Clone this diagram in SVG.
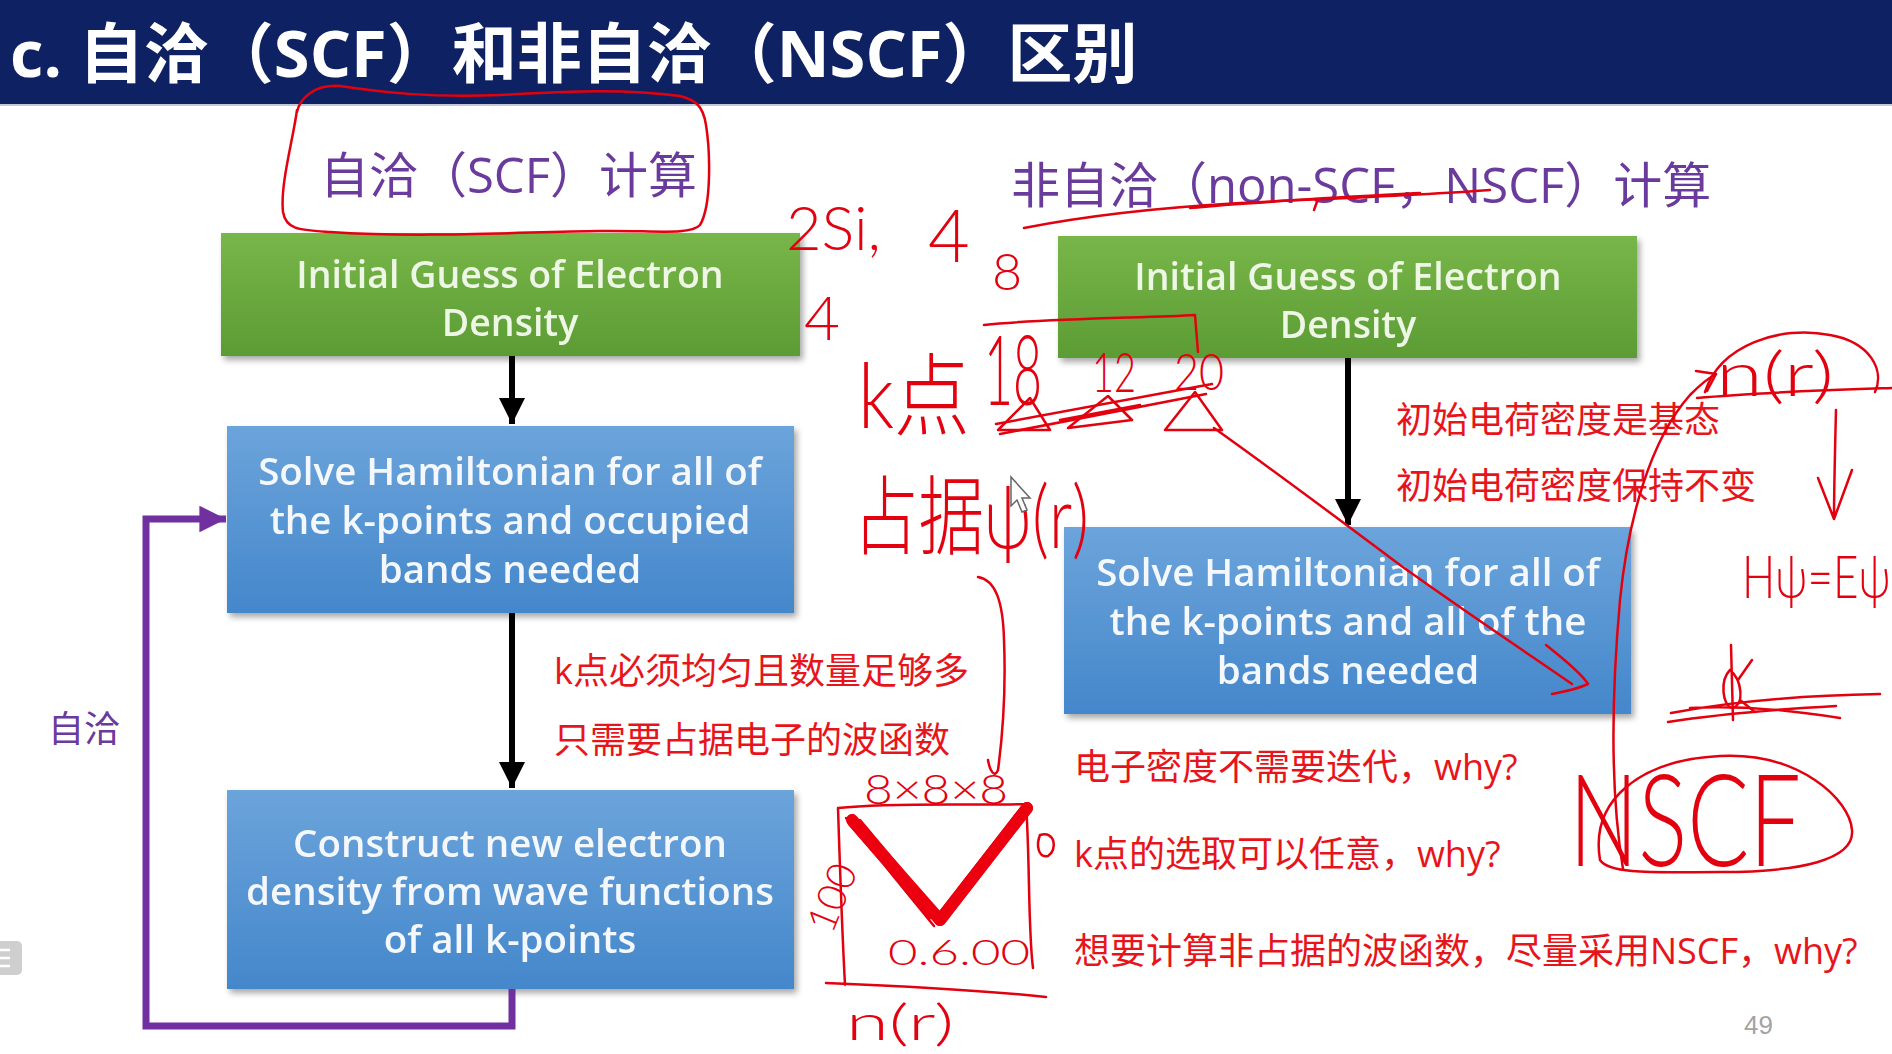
<svg xmlns="http://www.w3.org/2000/svg" width="1892" height="1054" viewBox="0 0 1892 1054">
  <defs>
    <style>
      .title { font-family: "Open Sans", "Noto Sans CJK SC", sans-serif; font-weight: bold; font-size: 65px; fill: #ffffff; }
      .sub { font-family: "Open Sans", "Noto Sans CJK SC", sans-serif; font-size: 49px; fill: #6a3a9c; }
      .box-text { font-family: "Open Sans", "Noto Sans CJK SC", sans-serif; font-weight: 600; font-size: 38.5px; text-anchor: middle; }
      .green-text { fill: #eef6e6; font-size: 37.5px; }
      .blue-text { fill: #f4f8fd; }
      .note { font-family: "Open Sans", "Noto Sans CJK SC", sans-serif; font-size: 36px; fill: #e8141c; }
      .loop-label { font-family: "Noto Sans CJK SC", sans-serif; font-size: 36px; fill: #6a3a9c; }
      .flow { fill: none; stroke: #000000; stroke-width: 6; }
      .loop { fill: none; stroke: #7030a0; stroke-width: 7; stroke-linejoin: miter; }
      .ink { fill: none; stroke: #e3000f; stroke-width: 2.5; stroke-linecap: round; stroke-linejoin: round; }
      .ink-bold { fill: none; stroke: #ec0010; stroke-width: 12; stroke-linecap: round; stroke-linejoin: round; }
      .hand { font-family: "Lato", "Noto Sans CJK SC", sans-serif; font-weight: 300; fill: #e3000f; }
      .page { font-family: "Liberation Sans Narrow", "Liberation Sans", sans-serif; font-size: 26px; fill: #a3a3a3; }
    </style>
    <linearGradient id="green" x1="0" y1="0" x2="0" y2="1">
      <stop offset="0" stop-color="#78b649"/>
      <stop offset="1" stop-color="#5c9c34"/>
    </linearGradient>
    <linearGradient id="blue" x1="0" y1="0" x2="0" y2="1">
      <stop offset="0" stop-color="#6ca4db"/>
      <stop offset="1" stop-color="#4487cb"/>
    </linearGradient>
    <filter id="shadow" x="-5%" y="-10%" width="112%" height="130%">
      <feDropShadow dx="3" dy="4" stdDeviation="3" flood-color="#000000" flood-opacity="0.35"/>
    </filter>
    <marker id="arrow-black" viewBox="0 0 10 10" refX="10" refY="5" markerWidth="4.4" markerHeight="4.4" markerUnits="strokeWidth" orient="auto">
      <path d="M0,0 L10,5 L0,10 Z" fill="#000000"/>
    </marker>
    <marker id="arrow-purple" viewBox="0 0 10 10" refX="10" refY="5" markerWidth="3.8" markerHeight="3.8" markerUnits="strokeWidth" orient="auto">
      <path d="M0,0 L10,5 L0,10 Z" fill="#7030a0"/>
    </marker>
  </defs>

  <rect x="0" y="0" width="1892" height="1054" fill="#ffffff"/>

  <!-- header band -->
  <g id="header">
    <rect x="0" y="0" width="1892" height="104" fill="#0e2162"/>
    <line x1="0" y1="105" x2="1892" y2="105" stroke="#c3c8d6" stroke-width="2"/>
    <text class="title" x="10" y="77">c. 自洽（SCF）和非自洽（NSCF）区别</text>
  </g>

  <!-- column headings -->
  <text id="scf-heading" class="sub" x="320" y="193">自洽（SCF）计算</text>
  <text id="nscf-heading" class="sub" x="1011" y="203">非自洽（non-SCF，NSCF）计算</text>

  <!-- SCF column -->
  <g id="scf-init" filter="url(#shadow)">
    <rect x="221" y="233" width="579" height="123" fill="url(#green)"/>
    <text class="box-text green-text" x="510" y="288">Initial Guess of Electron</text>
    <text class="box-text green-text" x="510" y="336">Density</text>
  </g>
  <g id="scf-solve" filter="url(#shadow)">
    <rect x="227" y="426" width="567" height="187" fill="url(#blue)"/>
    <text class="box-text blue-text" x="510" y="485">Solve Hamiltonian for all of</text>
    <text class="box-text blue-text" x="510" y="534">the k-points and occupied</text>
    <text class="box-text blue-text" x="510" y="583">bands needed</text>
  </g>
  <g id="scf-density" filter="url(#shadow)">
    <rect x="227" y="790" width="567" height="199" fill="url(#blue)"/>
    <text class="box-text blue-text" x="510" y="857">Construct new electron</text>
    <text class="box-text blue-text" x="510" y="905">density from wave functions</text>
    <text class="box-text blue-text" x="510" y="953">of all k-points</text>
  </g>

  <!-- NSCF column -->
  <g id="nscf-init" filter="url(#shadow)">
    <rect x="1058" y="236" width="579" height="122" fill="url(#green)"/>
    <text class="box-text green-text" x="1348" y="290">Initial Guess of Electron</text>
    <text class="box-text green-text" x="1348" y="338">Density</text>
  </g>
  <g id="nscf-solve" filter="url(#shadow)">
    <rect x="1064" y="527" width="567" height="187" fill="url(#blue)"/>
    <text class="box-text blue-text" x="1348" y="586">Solve Hamiltonian for all of</text>
    <text class="box-text blue-text" x="1348" y="635">the k-points and all of the</text>
    <text class="box-text blue-text" x="1348" y="684">bands needed</text>
  </g>

  <!-- connectors -->
  <g id="connectors">
    <line class="flow" x1="512" y1="356" x2="512" y2="424" marker-end="url(#arrow-black)"/>
    <line class="flow" x1="512" y1="613" x2="512" y2="788" marker-end="url(#arrow-black)"/>
    <line class="flow" x1="1348" y1="358" x2="1348" y2="525" marker-end="url(#arrow-black)"/>
    <path class="loop" d="M512,989 L512,1026 L146,1026 L146,519 L226,519" marker-end="url(#arrow-purple)"/>
  </g>
  <text id="loop-label" class="loop-label" x="48" y="742">自洽</text>

  <!-- printed remarks -->
  <g id="remarks">
    <text class="note" x="554" y="684">k点必须均匀且数量足够多</text>
    <text class="note" x="554" y="753">只需要占据电子的波函数</text>
    <text class="note" x="1396" y="433">初始电荷密度是基态</text>
    <text class="note" x="1396" y="499">初始电荷密度保持不变</text>
    <text class="note" x="1074" y="780">电子密度不需要迭代，why?</text>
    <text class="note" x="1074" y="867">k点的选取可以任意，why?</text>
    <text class="note" x="1074" y="964">想要计算非占据的波函数，尽量采用NSCF，why?</text>
  </g>

  <text id="page-number" class="page" x="1744" y="1034">49</text>

  <!-- player menu tab at the left edge -->
  <g id="menu-tab">
    <rect x="-6" y="941" width="28" height="34" rx="5" fill="#cfcfcf"/>
    <line x1="0" y1="950" x2="10" y2="950" stroke="#ffffff" stroke-width="2.5"/>
    <line x1="0" y1="958" x2="10" y2="958" stroke="#ffffff" stroke-width="2.5"/>
    <line x1="0" y1="966" x2="10" y2="966" stroke="#ffffff" stroke-width="2.5"/>
  </g>

  <!-- pen annotations -->
  <g id="ink">
    <!-- loop round the SCF heading -->
    <path class="ink" d="M297,110 C293,140 280,185 283,212 C286,230 300,230 330,232 C420,238 520,232 600,231 C650,230 690,236 700,225 C712,205 710,150 706,125 C703,105 695,100 680,96 C620,88 560,92 500,95 C430,98 380,92 340,86 C315,84 300,98 297,112"/>
    <!-- stroke under the NSCF heading -->
    <path class="ink" d="M1024,228 C1090,215 1170,207 1240,203 C1320,199 1410,196 1490,190"/>
    <path class="ink" d="M1190,208 C1250,202 1330,198 1420,193"/>
    <path class="ink" d="M1318,199 L1314,210"/>

    <text class="hand" x="786" y="250" font-size="62" textLength="95" lengthAdjust="spacingAndGlyphs">2Si,</text>
    <text class="hand" x="928" y="262" font-size="72">4</text>
    <text class="hand" x="992" y="290" font-size="52">8</text>
    <text class="hand" x="804" y="340" font-size="62">4</text>
    <text class="hand" x="858" y="428" font-size="90" textLength="112" lengthAdjust="spacingAndGlyphs">k点</text>
    <text class="hand" x="984" y="405" font-size="96" textLength="58" lengthAdjust="spacingAndGlyphs">18</text>
    <text class="hand" x="1092" y="392" font-size="56" textLength="44" lengthAdjust="spacingAndGlyphs">12</text>
    <text class="hand" x="1174" y="390" font-size="52" textLength="50" lengthAdjust="spacingAndGlyphs">20</text>

    <!-- bracket and scribbles under the k-point counts -->
    <path class="ink" d="M984,325 C1050,318 1150,318 1195,315 L1198,352"/>
    <path class="ink" d="M998,430 L1030,398 L1050,430 Z M1068,428 L1108,396 L1132,420 Z M1165,430 L1195,392 L1222,430 Z"/>
    <path class="ink" d="M996,424 L1212,384 M1000,434 L1206,394 M1060,420 L1140,405"/>

    <text class="hand" x="853" y="548" font-size="86" textLength="236" lengthAdjust="spacingAndGlyphs">占据ψ(r)</text>
    <!-- mouse pointer -->
    <polygon points="1011,477 1011,506 1017,500 1022,512 1027,510 1022,498 1030,498" fill="#ffffff" stroke="#666666" stroke-width="1.5"/>

    <!-- diagonal arrow across the NSCF solve box -->
    <path class="ink" d="M1214,428 C1280,475 1340,520 1400,565 C1470,615 1530,655 1572,684"/>
    <path class="ink" d="M1546,645 C1565,660 1582,674 1588,684 C1575,690 1562,692 1552,694"/>

    <!-- bracket beside the SCF remarks -->
    <path class="ink" d="M978,577 C995,580 1003,600 1004,640 C1006,690 1002,740 998,770 C995,778 990,772 988,760"/>

    <!-- k-mesh sketch -->
    <text class="hand" x="864" y="804" font-size="42" textLength="144" lengthAdjust="spacingAndGlyphs">8×8×8</text>
    <path class="ink" d="M838,808 C900,802 980,806 1026,804 M1026,804 C1030,860 1028,930 1033,968 M838,808 C840,870 842,930 845,985 M826,983 C900,986 980,990 1046,997"/>
    <path class="ink" d="M1040,835 C1055,830 1058,850 1048,856 C1038,858 1036,845 1040,835"/>
    <text class="hand" transform="translate(832,935) rotate(-68)" font-size="40">100</text>
    <text class="hand" x="888" y="965" font-size="36" textLength="142" lengthAdjust="spacingAndGlyphs">0.6.00</text>
    <path class="ink" d="M846,818 L934,926 M853,815 L941,920 M860,820 L937,912 M849,824 L930,918" stroke-width="3"/>
    <path class="ink-bold" d="M852,820 L940,920 L1027,808" stroke-width="7"/>
    <path class="ink-bold" d="M940,920 L1027,808"/>
    <text class="hand" x="846" y="1040" font-size="50" textLength="108" lengthAdjust="spacingAndGlyphs">n(r)</text>

    <!-- right-hand margin notes -->
    <text class="hand" x="1716" y="396" font-size="62" textLength="118" lengthAdjust="spacingAndGlyphs">n(r)</text>
    <path class="ink" d="M1705,392 C1720,345 1780,325 1830,335 C1870,342 1885,370 1875,392"/>
    <path class="ink" d="M1697,398 C1760,392 1830,390 1892,388"/>
    <path class="ink" d="M1623,869 C1610,790 1612,690 1620,600 C1628,520 1650,440 1690,395 C1700,385 1708,378 1716,374"/>
    <path class="ink" d="M1696,371 L1716,374 L1707,391"/>
    <path class="ink" d="M1836,410 C1835,450 1834,490 1834,519 M1818,478 L1834,519 L1852,470"/>
    <text class="hand" transform="translate(1742,598) scale(1,1.35)" font-size="44">Hψ=Eψ</text>
    <path class="ink" d="M1731,645 L1733,720 M1730,670 C1720,680 1722,705 1732,708 C1745,705 1742,680 1730,670 M1738,680 L1752,660 M1740,700 L1755,712"/>
    <path class="ink" d="M1671,713 C1740,700 1820,695 1880,694 M1668,722 C1730,712 1800,708 1836,706 M1690,708 C1750,705 1800,712 1840,718"/>
    <text class="hand" x="1569" y="866" font-size="128" textLength="232" lengthAdjust="spacingAndGlyphs">NSCF</text>
    <path class="ink" d="M1600,860 C1590,800 1640,760 1720,756 C1800,752 1850,800 1852,830 C1855,860 1800,872 1720,872 C1660,872 1610,875 1600,860"/>
  </g>
</svg>
